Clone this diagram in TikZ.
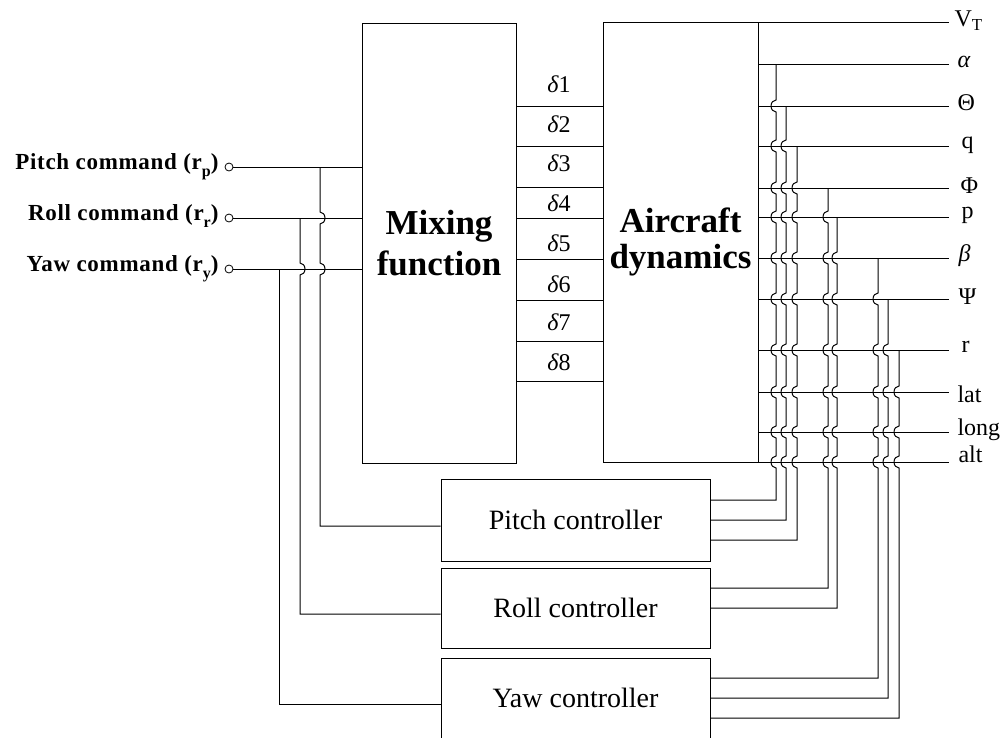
\documentclass[tikz,border=0pt]{standalone}
\usepackage{fontspec}
\setmainfont{Liberation Serif}
\newfontfamily\cmdfont{Liberation Serif}[LetterSpace=3.0]
\newcommand\cmdsub[1]{\raisebox{-0.32em}{\fontsize{16}{16}\selectfont #1}}
\begin{document}
\begin{tikzpicture}[x=1pt,y=-1pt,line width=1pt,
  box/.style={draw, line width=1pt, inner sep=0pt},
  bigtxt/.style={align=center, font=\bfseries\fontsize{35}{41}\selectfont},
  ctrl/.style={draw, line width=1pt, minimum width=269pt, inner sep=0pt, font=\fontsize{28}{30}\selectfont},
  cmd/.style={anchor=east, inner sep=0pt, text height=0.7em, text depth=0.2em, font=\cmdfont\bfseries\fontsize{23}{25}\selectfont},
  port/.style={draw, circle, inner sep=0pt, minimum size=8pt, line width=0.8pt},
  dlbl/.style={inner sep=0pt, font=\fontsize{24}{26}\selectfont},
  olbl/.style={anchor=west, inner sep=0pt, font=\fontsize{24}{26}\selectfont},
  wire/.style={line width=1pt}]
\useasboundingbox (0,0) rectangle (1003,737);

% main blocks
\node[box, bigtxt, minimum width=154pt, minimum height=440pt] (mix) at (439,243) {Mixing\\function};
\node[box, bigtxt, font=\bfseries\fontsize{35}{36}\selectfont, minimum width=155pt, minimum height=440pt] (ad) at (680.5,242) {Aircraft\\dynamics};

% controllers
\node[ctrl, minimum height=82pt] (pc) at (575.5,520) {Pitch controller};
\node[ctrl, minimum height=80pt] (rc) at (575.5,608) {Roll controller};
\node[ctrl, minimum height=80pt] (yc) at (575.5,698) {Yaw controller};

% commands
\node[cmd] (tp) at (219,167) {Pitch command (r\cmdsub{p})};
\node[cmd] (tr) at (219,218) {Roll command (r\cmdsub{r})};
\node[cmd] (ty) at (219,269) {Yaw command (r\cmdsub{y})};
\node[port] (cp) at (229,167) {};
\node[port] (cr) at (229,218) {};
\node[port] (cy) at (229,269) {};
\draw (cp) -- (mix.west |- cp);
\draw (cr) -- (mix.west |- cr);
\draw (cy) -- (mix.west |- cy);

% command branches to controllers
\coordinate (jp) at (320,167);
\coordinate (jr) at (300,218);
\coordinate (jy) at (279,269);
\draw[wire] (jp) \foreach \h in {218,269} { -- (320,\h-6) arc[start angle=90,end angle=-90,x radius=5pt,y radius=6pt] } |- ([yshift=-6pt]pc.west);
\draw[wire] (jr) \foreach \h in {269} { -- (300,\h-6) arc[start angle=90,end angle=-90,x radius=5pt,y radius=6pt] } |- ([yshift=-6pt]rc.west);
\draw[wire] (jy) |- ([yshift=-6pt]yc.west);

% actuator signals
\foreach \y in {106,146,187,218,259,300,341,381}
  \draw (mix.east |- 0,\y) -- (ad.west |- 0,\y);
\foreach \y [count=\i] in {84,124,163,203,243,284,322,362}
  \node[dlbl] (d\i) at (559,\y) {\textit{δ}\i};

% outputs
\foreach \n/\y in {VT/22,al/64,Th/106,q/146,Ph/188,p/217,be/258,Ps/299,r/350,lat/392,long/432,alt/462} {
  \coordinate (o\n) at (949,\y);
  \draw (ad.east |- o\n) -- (o\n);
}
\node[olbl] (lVT) at (954,21) {V\textsubscript{T}};
\node[olbl] (lal) at (957,62) {\textit{α}};
\node[olbl] (lTh) at (957,103) {Θ};
\node[olbl] (lq) at (961,145) {q};
\node[olbl] (lPh) at (960,186) {Φ};
\node[olbl] (lp) at (961,215) {p};
\node[olbl] (lbe) at (958,256) {\textit{β}};
\node[olbl] (lPs) at (958,297) {Ψ};
\node[olbl] (lr) at (961,347) {r};
\node[olbl] (llat) at (957,394) {lat};
\node[olbl] (llong) at (957,430) {long};
\node[olbl] (lalt) at (958,454) {alt};

% feedback wires
\coordinate (jA) at (776,64);
\coordinate (jB) at (786,106);
\coordinate (jC) at (797,146);
\coordinate (jD) at (828,188);
\coordinate (jE) at (837,217);
\coordinate (jF) at (878,258);
\coordinate (jG) at (888,299);
\coordinate (jH) at (899,350);
\newcommand\hopwire[4]{\draw[wire] (#1) \foreach \h in {#3} { -- (#2,\h-6) arc[start angle=90,end angle=270,x radius=5pt,y radius=6pt] } |- (#4);}
\hopwire{jA}{776}{106,146,188,217,258,299,350,392,432,462}{[yshift=20pt]pc.east}
\hopwire{jB}{786}{146,188,217,258,299,350,392,432,462}{pc.east}
\hopwire{jC}{797}{188,217,258,299,350,392,432,462}{[yshift=-20pt]pc.east}
\hopwire{jD}{828}{217,258,299,350,392,432,462}{[yshift=20pt]rc.east}
\hopwire{jE}{837}{258,299,350,392,432,462}{rc.east}
\hopwire{jF}{878}{299,350,392,432,462}{[yshift=20pt]yc.east}
\hopwire{jG}{888}{350,392,432,462}{yc.east}
\hopwire{jH}{899}{392,432,462}{[yshift=-20pt]yc.east}
\end{tikzpicture}
\end{document}
